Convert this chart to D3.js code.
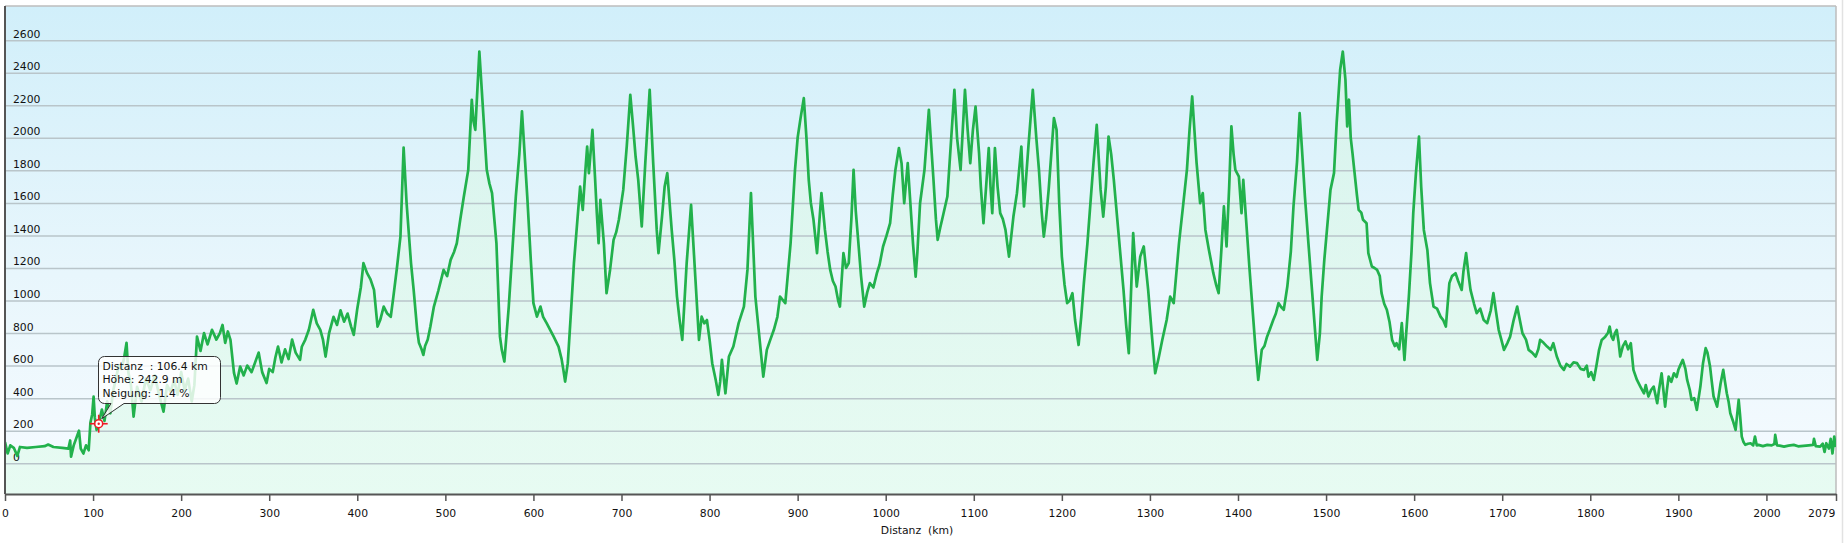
<!DOCTYPE html>
<html>
<head>
<meta charset="utf-8">
<script src="https://cdn.jsdelivr.net/npm/d3@7"></script>
<style>
  html, body { margin: 0; padding: 0; background: #ffffff; }
  svg { display: block; }
  text { font-family: "DejaVu Sans", Verdana, sans-serif; }
</style>
</head>
<body>
<svg id="chart" width="1844" height="543"></svg>
<script>
// ---------- DATA ----------
const distanceKm = [0,3,6,10,14,17,25,35,45,49,55,65,72,74,75,78,84,86,89,92,95,97,99,100.6,102,104,106.4,110,113,116,119.6,123,126,129,132,135,138,140,143,146,150,155,160,165,170,175,180,184,188,192,196,200,204,208,212,215,218,222,226,230,235,240,244,247,250,253,256,260,263,267,271,275,280,284,288,292,297,300,304,307,310,314,318,322,326,330,335,337,341,345,350,354,358,361,364,368,373,377,381,385,389,393,396,400,404,407,411,415,419,423,426,430,434,438,441,445,449,
452.6,456,461,464,468,470,473,475,477,480,483,487,492,498,502,506,510,513,517,521,526,530,532,534,538.6,543,547,550,553,558,562,564,567,572,576,580,584,587,590,593,597,600,604,608,611,615,619,623,628.5,632,634,636,639,643,646,650,653,656,659,661,663,667,670,672,674,676,680,683,687,691,694,697,702,706,710,713,716,719,723,727,732,736,740,742,746,749,752,757,760,763,766,769,774,779,784,788,791,794,797,800,803,807,810,812,814,818,822,827,833,839,843,847,852,858,861,865,869,873,877,880,886,892,897,900,903,
907,910,912.6,915,918,922,927,931,934,937,940,943,946,948,952,955,958,961,963.5,966,969,972,975.6,979,982,986,990,993,997,1001,1005,1008,1011,1015,1018,1021,1025,1028,1031,1034,1036,1039,1044,1049,1054,1057,1059,1062,1064,1070,1073,1078,1081,1085,1090,1093,1096,1099,1102,1106,1108,1111,1114,1117,1119,1121,1124,1127,1130,1133,1136,1138,1140,1145,1149,1154,1157,1162,1167,1171,1174,1177,1179.5,1182,1185,1188,1191,1194,1197,1200,1203,1206,1209,1212,1215,1219,1222,1225,1229,1233,1236,1239.6,1244,1247,1250,1253,1256,1259,1264,1270,1273,1276,1281,1285,1289,1293,1298,1302,1306,1310,1314,1319,1323,1327,1333,1338,1342,1345,1348,1353,1357,
1360,1363,1367,1372,1375,1378,1381,1384,1387,1390,1392.5,1395,1397,1401,1404,1406,1410,1413,1416,1420,1423,1427,1430,1433,1436,1440,1443,1446,1449,1452,1456,1460,1463,1467,1470,1473,1476,1480,1484,1487,1490,1493,1495,1498,1501,1505,1509,1512,1516,1519,1522,1524,1526,1528,1530,1532,1535,1537,1540,1542,1546,1548,1552,1555,1558,1561,1563,1566,1569,1572,1575,1578,1580,1583,1586,1589,1591,1594,1597,1599,1602,1605.5,1608,1611,1615,1618,1622,1626,1630,1633,1636,1640,1643,1647,1650,1654,1656,1659,1662,1664,1668,1671,1675,1679,1683,1687,1690,1693,1696,1699,1702,1706,1709,1713,1717,1720,1723,1727,1730,1734,1738,1741,1743,1747,1751,
1755,1758,1762,1766,1770,1773,1777,1781,1785,1789,1793,1796,1798,1801,1804,1807,1810,1813,1817,1820,1822,1824,1826,1828,1830,1832,1834,1837,1840,1843,1846,1849,1853,1857,1861,1863,1866,1869,1872,1874,1876,1878,1881,1883,1885,1887,1889,1892,1895,1898,1900,1902,1905,1908,1910,1913,1915,1918,1921,1923,1925,1928,1931,1933,1936,1938,1940,1942,1944,1946,1948,1951,1953,1955,1957,1959,1962,1965,1968.5,1970,1972,1974,1976,1979,1982,1985,1987,1989,1991,1996,2001,2006,2009,2010,2012,2015,2020,2025,2031,2036,2042,2048,2053,2054,2056,2061,2064,2066,2068,2071,2073,2075,2077,2079];

const elevationM = [130,60,110,95,45,100,95,100,105,115,100,95,90,140,40,110,200,90,60,110,80,250,300,410,280,205,243,330,260,380,307,450,520,600,580,640,740,560,480,287,470,380,520,450,540,420,317,480,440,510,420,560,450,520,380,480,778,690,800,730,820,760,800,850,740,810,758,555,490,594,540,600,560,620,680,560,493,580,560,650,717,620,700,640,760,680,635,716,760,820,943,860,820,760,655,800,900,850,940,870,920,840,789,950,1080,1230,1170,1130,1065,840,880,963,920,900,1024,1200,1393,
1940,1598,1230,1065,820,740,700,666,720,760,840,963,1060,1188,1150,1250,1300,1352,1500,1639,1803,2234,2100,2049,2530,2152,1803,1720,1660,1352,778,700,625,963,1300,1639,1900,2162,1900,1639,1250,984,901,963,900,861,820,778,717,640,574,502,615,963,1230,1500,1700,1557,1800,1946,1783,2049,1750,1537,1352,1619,1352,1045,1188,1373,1420,1496,1680,1950,2264,2080,1885,1742,1455,1844,2295,1844,1434,1291,1516,1700,1783,1434,1250,1024,880,758,1230,1588,1127,758,901,860,880,760,615,512,420,500,636,430,656,717,861,963,1188,1660,1024,697,532,697,760,820,900,1024,984,1352,1803,2000,2110,
2244,2000,1742,1600,1496,1291,1660,1434,1300,1188,1120,1086,1000,963,1291,1200,1230,1500,1803,1550,1352,1150,963,1050,1107,1080,1168,1220,1332,1400,1475,1650,1803,1937,1844,1598,1844,1598,1350,1147,1300,1598,1803,2172,1762,1500,1373,1450,1496,1639,1885,2295,2000,1803,2295,2050,1844,2049,2192,1906,1700,1475,1700,1937,1700,1537,1937,1700,1537,1500,1434,1350,1270,1516,1660,1946,1578,1946,2295,2000,1803,1550,1393,1500,1680,1900,2121,2049,1600,1270,1100,984,1000,1045,880,727,900,1107,1350,1639,1850,2080,1680,1516,1700,2008,1900,1742,1434,1065,850,676,1414,1086,1270,1332,1065,800,553,650,758,880,1024,984,1352,1600,1803,2050,2254,1844,1598,
1660,1434,1311,1168,1100,1045,1300,1578,1332,1700,2070,1900,1803,1762,1537,1742,1434,1200,984,697,512,697,720,778,820,880,920,984,960,943,1086,1300,1578,1850,2152,1900,1639,1350,1065,850,635,800,1024,1250,1434,1680,1783,2090,2418,2530,2356,2070,2234,2000,1906,1803,1650,1557,1540,1496,1475,1291,1209,1200,1188,1150,1045,980,943,870,758,720,738,700,861,635,800,1024,1300,1537,1780,2008,1700,1434,1311,1107,963,950,901,880,840,1107,1150,1168,1120,1065,1180,1291,1150,1065,980,922,950,880,861,940,1045,930,820,760,697,740,778,880,963,880,799,760,697,680,656,700,758,740,717,
697,738,656,600,574,610,594,620,615,580,574,600,532,560,512,600,697,758,778,800,840,780,758,800,820,750,656,720,748,700,738,574,512,470,430,480,410,450,471,420,369,450,553,450,348,450,532,500,553,530,574,600,635,580,512,450,389,400,328,400,471,615,707,680,594,500,410,380,348,420,492,574,500,430,380,307,260,205,389,300,164,130,113,120,123,110,164,110,113,105,113,110,118,174,110,108,102,108,113,104,107,110,113,150,105,102,120,70,123,90,150,60,164,100];

const yTickValues = [0,200,400,600,800,1000,1200,1400,1600,1800,2000,2200,2400,2600];
const xTickValues = [0,100,200,300,400,500,600,700,800,900,1000,1100,1200,1300,1400,1500,1600,1700,1800,1900,2000,2079];
const xTitle = "Distanz\u00a0 (km)";
const tooltipPoint = { km: 106.4, m: 242.9 };
const tooltipLines = ["Distanz\u00a0 : 106.4 km", "Höhe: 242.9 m", "Neigung: -1.4 %"];

// ---------- LAYOUT ----------
const W = 1844, H = 543;
const plot = { left: 5, right: 1836, top: 6, bottom: 494 };

const data = distanceKm.map((d, i) => ({ km: d, m: elevationM[i] }));

const x = d3.scaleLinear().domain([0, 2079]).range([plot.left, plot.right]);
const y = d3.scaleLinear().domain([-189, 2810]).range([plot.bottom, plot.top]);

const svg = d3.select("#chart");
const defs = svg.append("defs");

const bg = defs.append("linearGradient").attr("id", "bgGrad")
  .attr("x1", 0).attr("y1", 0).attr("x2", 0).attr("y2", 1);
bg.append("stop").attr("offset", "0%").attr("stop-color", "#d1effa");
bg.append("stop").attr("offset", "55%").attr("stop-color", "#e8f6fc");
bg.append("stop").attr("offset", "100%").attr("stop-color", "#f6fbff");

const fg = defs.append("linearGradient").attr("id", "fillGrad")
  .attr("x1", 0).attr("y1", 0).attr("x2", 0).attr("y2", 1);
fg.append("stop").attr("offset", "0%").attr("stop-color", "#d6f5e4").attr("stop-opacity", 0.55);
fg.append("stop").attr("offset", "100%").attr("stop-color", "#e2fbee").attr("stop-opacity", 0.75);

defs.append("clipPath").attr("id", "clip").append("rect")
  .attr("x", plot.left).attr("y", plot.top)
  .attr("width", plot.right - plot.left).attr("height", plot.bottom - plot.top);

// page right edge strip
svg.append("line").attr("x1", 1842.5).attr("x2", 1842.5).attr("y1", 0).attr("y2", H)
  .attr("stroke", "#e2e2e2").attr("stroke-width", 1.5);

// plot background
svg.append("rect")
  .attr("x", plot.left).attr("y", plot.top)
  .attr("width", plot.right - plot.left).attr("height", plot.bottom - plot.top)
  .attr("fill", "url(#bgGrad)");

// area under profile
const area = d3.area().x(d => x(d.km)).y0(plot.bottom).y1(d => y(d.m));
svg.append("path").datum(data)
  .attr("clip-path", "url(#clip)")
  .attr("d", area)
  .attr("fill", "url(#fillGrad)");

// gridlines + y labels
const yAxis = d3.axisRight(y).tickValues(yTickValues).tickSize(plot.right - plot.left).tickFormat(d3.format("d"));
const gy = svg.append("g").attr("transform", `translate(${plot.left},0)`).call(yAxis);
gy.select(".domain").remove();
gy.selectAll(".tick line").attr("stroke", "#b9c5ca").attr("stroke-width", 1.5);
gy.selectAll(".tick text")
  .attr("x", 8).attr("dy", "-3").attr("text-anchor", "start")
  .attr("fill", "#111").style("font-size", "10.8px");

// top & right border
svg.append("line").attr("x1", plot.left).attr("x2", plot.right).attr("y1", plot.top).attr("y2", plot.top)
  .attr("stroke", "#bdbdbd").attr("stroke-width", 1.5);
svg.append("line").attr("x1", plot.right).attr("x2", plot.right).attr("y1", plot.top).attr("y2", plot.bottom)
  .attr("stroke", "#bdbdbd").attr("stroke-width", 1.5);

// profile line
const line = d3.line().x(d => x(d.km)).y(d => y(d.m));
svg.append("path").datum(data)
  .attr("clip-path", "url(#clip)")
  .attr("d", line)
  .attr("fill", "none")
  .attr("stroke", "#22b14c")
  .attr("stroke-width", 2.7)
  .attr("stroke-linejoin", "round");

// left axis line
svg.append("line").attr("x1", plot.left).attr("x2", plot.left).attr("y1", plot.top).attr("y2", plot.bottom)
  .attr("stroke", "#555").attr("stroke-width", 2);

// x axis
const xAxis = d3.axisBottom(x).tickValues(xTickValues).tickSize(7).tickSizeOuter(0).tickPadding(8).tickFormat(d3.format("d"));
const gx = svg.append("g").attr("transform", `translate(0,${plot.bottom})`).call(xAxis);
gx.select(".domain").attr("stroke", "#555").attr("stroke-width", 2);
gx.selectAll(".tick line").attr("stroke", "#555").attr("stroke-width", 1.5);
gx.selectAll(".tick text").attr("fill", "#111").style("font-size", "10.8px");
gx.selectAll(".tick").filter(d => d === 2079).select("text")
  .attr("text-anchor", "end").attr("x", -1);

svg.append("text").attr("x", 917).attr("y", 534)
  .attr("text-anchor", "middle").attr("fill", "#111").style("font-size", "10.8px")
  .text(xTitle);

// tooltip marker
const mx = x(tooltipPoint.km), my = y(tooltipPoint.m);
const mk = svg.append("g").attr("stroke", "#ee1c24").attr("stroke-width", 1.6);
mk.append("circle").attr("cx", mx).attr("cy", my).attr("r", 4).attr("fill", "#fff");
mk.append("circle").attr("cx", mx).attr("cy", my).attr("r", 1.2).attr("fill", "#ee1c24").attr("stroke", "none");
mk.append("line").attr("x1", mx - 9).attr("x2", mx - 4).attr("y1", my).attr("y2", my);
mk.append("line").attr("x1", mx + 4).attr("x2", mx + 9).attr("y1", my).attr("y2", my);
mk.append("line").attr("x1", mx).attr("x2", mx).attr("y1", my - 9).attr("y2", my - 4);
mk.append("line").attr("x1", mx).attr("x2", mx).attr("y1", my + 4).attr("y2", my + 9);

// tooltip box with pointer
const bx0 = 98.5, by0 = 356.5, bx1 = 220.5, by1 = 403.5, r = 6;
const tipX = mx + 3, tipY = my - 5;
const n0 = 111, n1 = 124;
const p = d3.path();
p.moveTo(bx0 + r, by0);
p.lineTo(bx1 - r, by0);
p.arcTo(bx1, by0, bx1, by0 + r, r);
p.lineTo(bx1, by1 - r);
p.arcTo(bx1, by1, bx1 - r, by1, r);
p.lineTo(n1, by1);
p.lineTo(tipX, tipY);
p.lineTo(n0, by1);
p.lineTo(bx0 + r, by1);
p.arcTo(bx0, by1, bx0, by1 - r, r);
p.lineTo(bx0, by0 + r);
p.arcTo(bx0, by0, bx0 + r, by0, r);
p.closePath();
svg.append("path").attr("d", p.toString())
  .attr("fill", "rgba(255,255,255,0.82)").attr("stroke", "#333").attr("stroke-width", 1);

svg.append("g").selectAll("text").data(tooltipLines).join("text")
  .attr("x", 102.5).attr("y", (d, i) => 370 + i * 13.3)
  .attr("fill", "#111").style("font-size", "10.8px")
  .text(d => d);
</script>
</body>
</html>
